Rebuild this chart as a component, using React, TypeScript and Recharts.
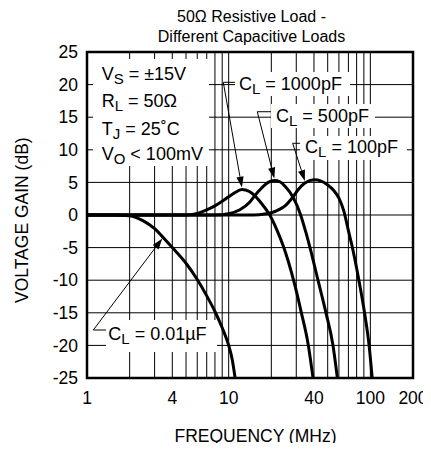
import React from 'react';
import { LineChart, Line, XAxis, YAxis, CartesianGrid, ReferenceLine, ReferenceArea } from 'recharts';

const FONT = '"Liberation Sans", Arial, Helvetica, sans-serif';

// axis ticks
const xTicks = [1, 4, 10, 40, 100, 200];
const yTicks = [-25, -20, -15, -10, -5, 0, 5, 10, 15, 20, 25];
const xGridLines = [2, 3, 4, 5, 6, 7, 8, 9, 10, 20, 30, 40, 50, 60, 70, 80, 90, 100];

// C_L = 0.01uF
const freq001uF = [1, 1.5, 2, 2.5, 3, 3.5, 4, 5, 6, 7, 8, 9, 10, 10.6, 11.1];
const gain001uF = [0, 0, -0.1, -0.9, -2.1, -3.6, -5, -7.4, -9.9, -12.4, -14.8, -17.3, -20, -22.2, -25];

// C_L = 1000pF
const freq1000pF = [1, 5, 6, 7, 8, 9, 10, 11, 12.4, 14, 15.2, 17, 19.5, 22, 24.5, 28.7, 32.6, 36.5, 39.4];
const gain1000pF = [0, 0, 0.25, 0.8, 1.4, 2.1, 2.8, 3.4, 3.9, 3.6, 3.0, 1.8, 0, -2.4, -5, -10, -15, -20, -25];

// C_L = 500pF
const freq500pF = [1, 8, 10, 12, 14, 15.2, 17, 19, 21, 23, 25, 28.5, 32, 35, 37.5, 42.7, 48.6, 54.5, 58.5];
const gain500pF = [0, 0, 0.2, 0.8, 1.9, 2.9, 4.1, 5.0, 5.3, 5.1, 4.4, 2.7, 0.2, -2.6, -5, -10, -15, -20, -25];

// C_L = 100pF
const freq100pF = [1, 15, 18, 20, 23, 25, 28.5, 31, 34.5, 40, 45, 50, 55, 60, 65, 70, 74, 83, 91, 98, 103];
const gain100pF = [0, 0, 0.15, 0.35, 0.9, 1.4, 2.8, 3.9, 4.9, 5.4, 5.2, 4.6, 3.8, 2.6, 0.6, -2.4, -4.6, -10, -15, -20, -25];

const rows = (f: number[], g: number[]) => f.map((x, i) => ({ f: x, g: g[i] }));

const series = [
  { name: 'CL = 0.01uF', data: rows(freq001uF, gain001uF) },
  { name: 'CL = 1000pF', data: rows(freq1000pF, gain1000pF) },
  { name: 'CL = 500pF', data: rows(freq500pF, gain500pF) },
  { name: 'CL = 100pF', data: rows(freq100pF, gain100pF) },
];

// annotation anchors in data coordinates
const labelBoxes = [
  { key: 'cond', x1: 1.102, x2: 7.26, y1: 23.93, y2: 7.52 },
  { key: 'c1000', x1: 11.08, x2: 71.8, y1: 21.93, y2: 18.25, text: '1000pF', dx: 4, dy: 17.5 },
  { key: 'c500', x1: 19.9, x2: 107.8, y1: 17.02, y2: 13.34, text: '500pF', dx: 5, dy: 17.7 },
  { key: 'c100', x1: 31.9, x2: 181.4, y1: 12.12, y2: 8.44, text: '100pF', dx: 5, dy: 17.3 },
  { key: 'c001', x1: 1.362, x2: 8.27, y1: -16.1, y2: -21.01, text: '0.01\u00B5F', dx: 2.3, dy: 20 },
];

const leaderTicks = [
  { x1: 9.165, x2: 11.08, y: 20.35 },
  { x1: 15.92, x2: 19.9, y: 15.84 },
  { x1: 28.3, x2: 31.9, y: 11.0 },
  { x1: 1.108, x2: 1.362, y: -17.64 },
];

const leaderArrows = [
  { from: { x: 9.165, y: 20.35 }, to: { x: 12.4, y: 4.2 } },
  { from: { x: 15.92, y: 15.84 }, to: { x: 21, y: 5.6 } },
  { from: { x: 28.3, y: 11.0 }, to: { x: 34.5, y: 5.2 } },
  { from: { x: 1.108, y: -17.64 }, to: { x: 3.4, y: -3.6 } },
];

const Arrow = (p: any) => {
  const { x1, y1, x2, y2 } = p;
  const dx = x2 - x1;
  const dy = y2 - y1;
  const len = Math.hypot(dx, dy) || 1;
  const ux = dx / len;
  const uy = dy / len;
  const L = 11;
  const W = 3.6;
  const bx = x2 - ux * L;
  const by = y2 - uy * L;
  const pts = `${x2},${y2} ${bx - uy * W},${by + ux * W} ${bx + uy * W},${by - ux * W}`;
  return (
    <g>
      <line x1={x1} y1={y1} x2={bx} y2={by} stroke="#000" strokeWidth={1} />
      <polygon points={pts} fill="#000" />
    </g>
  );
};

const Sub = ({ main, sub, rest }: { main: string; sub: string; rest: string }) => (
  <>
    <tspan>{main}</tspan>
    <tspan fontSize={15} dy={4}>{sub}</tspan>
    <tspan dy={-4}>{rest}</tspan>
  </>
);

const makeBoxShape = (b: any) => (p: any) => {
  const { x, y, width, height } = p;
  if (b.key === 'cond') {
    const tx = x + 8.7;
    return (
      <g>
        <rect x={x} y={y} width={width} height={height} fill="#fff" />
        <text x={tx} y={y + 21.5} fontSize={18} fontFamily={FONT} fill="#000" style={{ whiteSpace: 'pre' }}>
          <Sub main="V" sub="S" rest={' = \u00B115V'} />
        </text>
        <text x={tx} y={y + 48} fontSize={18} fontFamily={FONT} fill="#000" style={{ whiteSpace: 'pre' }}>
          <Sub main="R" sub="L" rest={' = 50\u03A9'} />
        </text>
        <text x={tx} y={y + 76} fontSize={18} fontFamily={FONT} fill="#000" style={{ whiteSpace: 'pre' }}>
          <Sub main="T" sub="J" rest={' = 25\u02DAC'} />
        </text>
        <text x={tx} y={y + 101} fontSize={18} fontFamily={FONT} fill="#000" style={{ whiteSpace: 'pre' }}>
          <Sub main="V" sub="O" rest={' < 100mV'} />
        </text>
      </g>
    );
  }
  return (
    <g>
      <rect x={x} y={y} width={width} height={height} fill="#fff" />
      <text x={x + b.dx} y={y + b.dy} fontSize={18} fontFamily={FONT} fill="#000" style={{ whiteSpace: 'pre' }}>
        <Sub main="C" sub="L" rest={' = ' + b.text} />
      </text>
    </g>
  );
};

// The wrapper sits at the page's 8px body margin; chart coords = page coords - 8.
export default function App() {
  return (
    <div style={{ position: 'relative', width: 415, height: 435 }}>
      <div style={{ position: 'absolute', left: 0, top: 0 }}>
        <LineChart width={423} height={443} margin={{ top: 44, right: 18, bottom: 33, left: 0 }}>
          <CartesianGrid vertical={false} stroke="#000" strokeWidth={1} zIndex={-100} />
          {xGridLines.map((v) => (
            <ReferenceLine key={'gx' + v} x={v} stroke="#000" strokeWidth={1} zIndex={-90} />
          ))}
          <XAxis
            dataKey="f"
            type="number"
            scale="log"
            domain={[1, 200]}
            allowDataOverflow
            ticks={xTicks}
            interval={0}
            axisLine={false}
            tickLine={false}
            tickSize={6}
            tickMargin={8}
            height={40}
            tick={{ fill: '#000', fontSize: 17.5, fontFamily: FONT }}
          />
          <YAxis
            type="number"
            domain={[-25, 25]}
            allowDataOverflow
            ticks={yTicks}
            interval={0}
            axisLine={false}
            tickLine={false}
            tickSize={6}
            tickMargin={3}
            width={79}
            tick={{ fill: '#000', fontSize: 17.5, fontFamily: FONT }}
          />
          {labelBoxes.map((b) => (
            <ReferenceArea
              key={b.key}
              x1={b.x1}
              x2={b.x2}
              y1={b.y1}
              y2={b.y2}
              fill="#fff"
              fillOpacity={1}
              stroke="none"
              zIndex={100}
              shape={makeBoxShape(b)}
            />
          ))}
          {series.map((s) => (
            <Line
              key={s.name}
              name={s.name}
              data={s.data}
              dataKey="g"
              type="monotone"
              stroke="#000"
              strokeWidth={3}
              dot={false}
              activeDot={false}
              isAnimationActive={false}
              zIndex={400}
            />
          ))}
          {leaderTicks.map((t, i) => (
            <ReferenceLine
              key={'lt' + i}
              segment={[{ x: t.x1, y: t.y }, { x: t.x2, y: t.y }]}
              stroke="#000"
              strokeWidth={1}
              zIndex={450}
            />
          ))}
          {leaderArrows.map((a, i) => (
            <ReferenceLine
              key={'la' + i}
              segment={[a.from, a.to]}
              stroke="#000"
              strokeWidth={1}
              zIndex={450}
              shape={Arrow}
            />
          ))}
          <ReferenceArea x1={1} x2={200} y1={-25} y2={25} fill="none" stroke="#000" strokeWidth={2.5} zIndex={600} />
        </LineChart>
      </div>
      <svg
        width={415}
        height={435}
        style={{ position: 'absolute', left: 0, top: 0, pointerEvents: 'none', overflow: 'visible' }}
      >
        <text x={243.5} y={14} textAnchor="middle" fontSize={16} fontFamily={FONT} fill="#000">
          {'50\u03A9 Resistive Load -'}
        </text>
        <text x={243.5} y={34.3} textAnchor="middle" fontSize={16} fontFamily={FONT} fill="#000">
          Different Capacitive Loads
        </text>
        <text x={328.5} y={434} textAnchor="end" fontSize={17.5} fontFamily={FONT} fill="#000">
          FREQUENCY (MHz)
        </text>
        <text
          x={0}
          y={0}
          transform="translate(20.3,295) rotate(-90)"
          textAnchor="start"
          fontSize={17.5}
          fontFamily={FONT}
          fill="#000"
        >
          VOLTAGE GAIN (dB)
        </text>
      </svg>
    </div>
  );
}
